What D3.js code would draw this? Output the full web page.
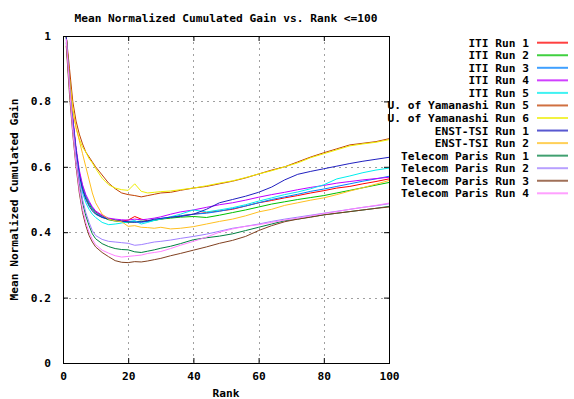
<!DOCTYPE html>
<html>
<head>
<meta charset="utf-8">
<script src="https://cdn.jsdelivr.net/npm/d3@7"></script>
<style>
  html, body { margin: 0; padding: 0; background: #fff; }
  svg { display: block; }
  text { font-family: "DejaVu Sans Mono", "Liberation Mono", monospace; font-weight: bold; font-size: 11.2px; fill: #000; }
</style>
</head>
<body>
<svg id="chart" width="574" height="399"></svg>
<script>
// Rank positions at which each run's mean nCG is sampled
const ranks = [1,2,3,4,5,6,7,8,9,10,12,14,16,18,20,22,24,26,28,30,33,36,40,44,48,52,56,60,64,68,72,76,80,84,88,92,96,100];

const runNames = [
  "ITI Run 1", "ITI Run 2", "ITI Run 3", "ITI Run 4", "ITI Run 5",
  "U. of Yamanashi Run 5", "U. of Yamanashi Run 6",
  "ENST-TSI Run 1", "ENST-TSI Run 2",
  "Telecom Paris Run 1", "Telecom Paris Run 2", "Telecom Paris Run 3", "Telecom Paris Run 4"
];

const runColors = [
  "#ff0000", "#00c000", "#0080ff", "#c000ff", "#00eeee",
  "#c04000", "#eeee00", "#2020c0", "#ffc020",
  "#008040", "#a080ff", "#804020", "#ff80ff"
];

const itiRun1 = [1.0,0.87,0.75,0.65,0.58,0.54,0.51,0.49,0.475,0.462,0.45,0.44,0.436,0.434,0.437,0.448,0.44,0.435,0.437,0.44,0.445,0.45,0.455,0.46,0.465,0.47,0.48,0.49,0.497,0.505,0.512,0.52,0.527,0.535,0.54,0.548,0.555,0.563];
const itiRun2 = [1.0,0.86,0.74,0.65,0.58,0.535,0.505,0.485,0.47,0.457,0.446,0.438,0.434,0.432,0.43,0.432,0.434,0.433,0.436,0.44,0.443,0.446,0.448,0.445,0.452,0.46,0.468,0.477,0.486,0.493,0.5,0.506,0.512,0.52,0.528,0.536,0.544,0.552];
const itiRun3 = [1.0,0.86,0.74,0.65,0.58,0.54,0.51,0.49,0.474,0.46,0.448,0.44,0.436,0.433,0.432,0.434,0.43,0.433,0.437,0.442,0.446,0.45,0.455,0.458,0.464,0.472,0.48,0.49,0.5,0.508,0.516,0.525,0.532,0.54,0.548,0.556,0.563,0.571];
const itiRun4 = [1.0,0.87,0.75,0.66,0.59,0.545,0.515,0.495,0.478,0.465,0.452,0.443,0.44,0.438,0.437,0.44,0.438,0.44,0.443,0.447,0.455,0.462,0.468,0.476,0.484,0.49,0.498,0.507,0.515,0.522,0.53,0.537,0.543,0.55,0.555,0.56,0.564,0.568];
const itiRun5 = [1.0,0.86,0.73,0.64,0.57,0.52,0.49,0.47,0.455,0.445,0.43,0.423,0.425,0.428,0.432,0.435,0.425,0.43,0.436,0.44,0.447,0.455,0.468,0.462,0.468,0.475,0.484,0.495,0.505,0.515,0.523,0.533,0.545,0.563,0.572,0.582,0.59,0.596];
const yamRun5 = [1.0,0.9,0.8,0.74,0.7,0.67,0.645,0.63,0.615,0.6,0.575,0.55,0.533,0.52,0.515,0.512,0.508,0.512,0.516,0.52,0.522,0.528,0.535,0.54,0.548,0.556,0.566,0.578,0.59,0.6,0.615,0.63,0.643,0.655,0.667,0.672,0.677,0.686];
const yamRun6 = [1.0,0.87,0.78,0.72,0.685,0.66,0.645,0.625,0.612,0.595,0.565,0.545,0.535,0.53,0.528,0.548,0.525,0.52,0.522,0.524,0.526,0.53,0.535,0.542,0.55,0.557,0.567,0.578,0.588,0.6,0.612,0.628,0.64,0.652,0.664,0.67,0.675,0.683];
const enstRun1 = [1.0,0.86,0.74,0.65,0.575,0.53,0.5,0.48,0.465,0.455,0.445,0.44,0.437,0.434,0.432,0.43,0.432,0.435,0.44,0.442,0.446,0.448,0.455,0.47,0.49,0.5,0.51,0.522,0.538,0.56,0.577,0.586,0.594,0.602,0.61,0.617,0.623,0.629];
const enstRun2 = [0.97,0.86,0.77,0.72,0.68,0.64,0.6,0.56,0.52,0.49,0.455,0.44,0.435,0.432,0.418,0.42,0.415,0.414,0.412,0.415,0.41,0.412,0.417,0.425,0.433,0.44,0.45,0.462,0.47,0.482,0.49,0.498,0.505,0.515,0.526,0.536,0.547,0.558];
const tpRun1 = [0.98,0.84,0.72,0.62,0.55,0.49,0.45,0.42,0.395,0.38,0.365,0.356,0.35,0.347,0.346,0.34,0.338,0.342,0.346,0.351,0.357,0.365,0.377,0.383,0.388,0.395,0.405,0.415,0.425,0.435,0.44,0.447,0.453,0.458,0.463,0.468,0.473,0.479];
const tpRun2 = [0.99,0.85,0.73,0.63,0.56,0.5,0.46,0.43,0.405,0.39,0.378,0.372,0.37,0.368,0.366,0.36,0.362,0.366,0.37,0.372,0.376,0.381,0.387,0.394,0.403,0.412,0.418,0.425,0.433,0.44,0.446,0.452,0.458,0.464,0.47,0.476,0.481,0.487];
const tpRun3 = [0.97,0.82,0.7,0.6,0.52,0.46,0.42,0.39,0.37,0.355,0.338,0.325,0.313,0.308,0.307,0.31,0.309,0.312,0.316,0.32,0.328,0.335,0.345,0.355,0.366,0.375,0.387,0.405,0.42,0.432,0.44,0.446,0.453,0.458,0.463,0.468,0.473,0.477];
const tpRun4 = [0.99,0.84,0.71,0.61,0.53,0.47,0.43,0.4,0.378,0.362,0.345,0.336,0.328,0.324,0.326,0.328,0.33,0.335,0.338,0.341,0.35,0.36,0.372,0.385,0.4,0.41,0.418,0.423,0.43,0.437,0.443,0.45,0.457,0.463,0.47,0.476,0.482,0.489];

const runValues = [itiRun1, itiRun2, itiRun3, itiRun4, itiRun5, yamRun5, yamRun6, enstRun1, enstRun2, tpRun1, tpRun2, tpRun3, tpRun4];

const xTicks = [0, 20, 40, 60, 80, 100];
const yTicks = [0, 0.2, 0.4, 0.6, 0.8, 1];

const svg = d3.select("#chart");
const W = 574, H = 399;
const plot = { left: 63, right: 389, top: 36, bottom: 363 };

svg.append("rect").attr("width", W).attr("height", H).attr("fill", "#fff");

const x = d3.scaleLinear().domain([0, 100]).range([plot.left, plot.right]);
const y = d3.scaleLinear().domain([0, 1]).range([plot.bottom, plot.top]);

// dotted grid
const grid = svg.append("g").attr("stroke", "#a0a0a0").attr("stroke-width", 1).attr("stroke-dasharray", "2,4");
xTicks.filter(t => t > 0 && t < 100).forEach(t => {
  grid.append("line").attr("x1", Math.round(x(t)) + 0.5).attr("x2", Math.round(x(t)) + 0.5)
    .attr("y1", plot.top).attr("y2", plot.bottom);
});
yTicks.filter(t => t > 0 && t < 1).forEach(t => {
  grid.append("line").attr("y1", Math.round(y(t)) + 0.5).attr("y2", Math.round(y(t)) + 0.5)
    .attr("x1", plot.left).attr("x2", plot.right);
});

// axes: labels outside, tick marks inward (mirrored on the opposite side)
const fmtY = d => d === 0 ? "0" : d === 1 ? "1" : d3.format(".1f")(d);
const yAxis = d3.axisLeft(y).tickValues(yTicks).tickFormat(fmtY).tickSizeInner(-5).tickSizeOuter(0).tickPadding(12);
svg.append("g").attr("transform", `translate(${plot.left},0)`).call(yAxis);
const xAxis = d3.axisBottom(x).tickValues(xTicks).tickFormat(d3.format("d")).tickSizeInner(-5).tickSizeOuter(0).tickPadding(9);
svg.append("g").attr("transform", `translate(0,${plot.bottom})`).call(xAxis);
svg.append("g").attr("transform", `translate(${plot.right},0)`)
  .call(d3.axisRight(y).tickValues(yTicks).tickFormat("").tickSizeInner(-5).tickSizeOuter(0));
svg.append("g").attr("transform", `translate(0,${plot.top})`)
  .call(d3.axisTop(x).tickValues(xTicks).tickFormat("").tickSizeInner(-5).tickSizeOuter(0));
svg.selectAll(".domain").remove();
svg.selectAll(".tick line").attr("stroke", "#000");
svg.selectAll(".tick text").attr("font-family", null).attr("font-size", null).style("font-weight", "bold");

// run curves
const line = d3.line().x((d, i) => x(ranks[i])).y(d => y(d));
const curves = svg.append("g").attr("fill", "none").attr("stroke-width", 1);
runValues.forEach((vals, i) => {
  curves.append("path").attr("d", line(vals)).attr("stroke", runColors[i]);
});

// plot border
svg.append("rect").attr("x", plot.left + 0.5).attr("y", plot.top + 0.5)
  .attr("width", plot.right - plot.left).attr("height", plot.bottom - plot.top)
  .attr("fill", "none").attr("stroke", "#000").attr("stroke-width", 1);

// titles
svg.append("text").attr("x", (plot.left + plot.right) / 2).attr("y", 22)
  .attr("text-anchor", "middle").text("Mean Normalized Cumulated Gain vs. Rank <=100");
svg.append("text").attr("x", (plot.left + plot.right) / 2).attr("y", 397)
  .attr("text-anchor", "middle").text("Rank");
svg.append("text").attr("transform", `translate(18,${(plot.top + plot.bottom) / 2}) rotate(-90)`)
  .attr("text-anchor", "middle").text("Mean Normalized Cumulated Gain");

// legend: key swatch to the right of each right-aligned label
const legend = svg.append("g");
runNames.forEach((name, i) => {
  const cy = 42.7 + i * 12.55;
  legend.append("text").attr("x", 529).attr("y", cy + 4).attr("text-anchor", "end").text(name);
  legend.append("rect").attr("x", 537).attr("y", cy - 1).attr("width", 31).attr("height", 2)
    .attr("fill", runColors[i]).attr("opacity", 0.75);
});
</script>
</body>
</html>
